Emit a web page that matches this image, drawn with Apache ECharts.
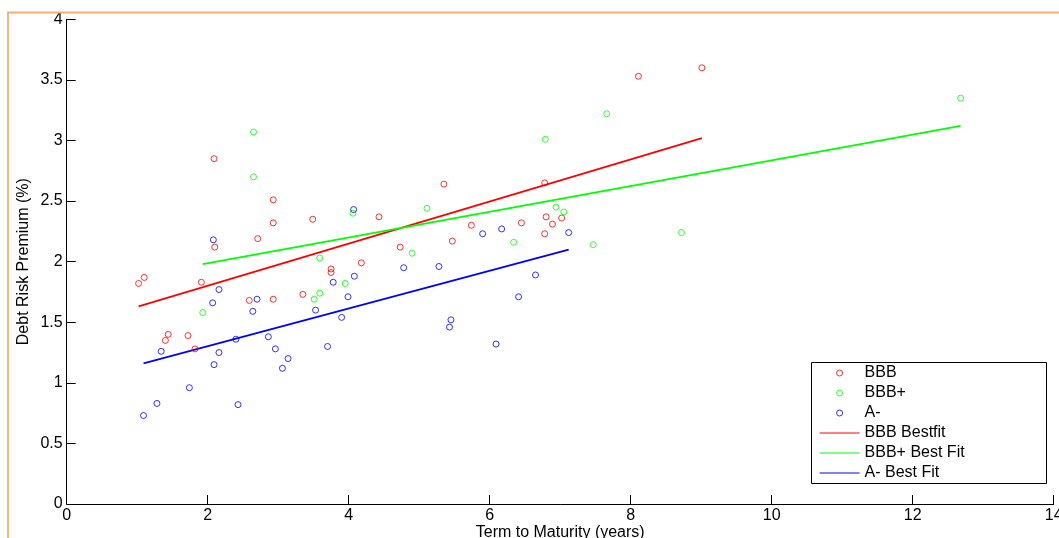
<!DOCTYPE html>
<html>
<head>
<meta charset="utf-8">
<script src="https://cdn.jsdelivr.net/npm/echarts@6/dist/echarts.min.js"></script>
<style>
html,body{margin:0;padding:0;background:#fff;}
#chart{width:1059px;height:538px;}
</style>
</head>
<body>
<div id="chart"></div>
<script>
// ---- data ----
const bbbX = [1.02,1.10,1.40,1.44,1.72,1.82,1.91,2.09,2.10,2.59,2.71,2.93,2.93,2.93,3.35,3.49,3.75,3.75,4.18,4.43,4.73,5.35,5.47,5.74,6.45,6.78,6.78,6.80,6.89,7.02,8.11,9.01];
const bbbY = [1.82,1.87,1.35,1.40,1.39,1.28,1.83,2.85,2.12,1.68,2.19,2.51,2.32,1.69,1.73,2.35,1.94,1.91,1.99,2.37,2.12,2.64,2.17,2.30,2.32,2.65,2.23,2.37,2.31,2.36,3.53,3.60];

const bbbPlusX = [1.93,2.65,2.65,3.51,3.59,3.59,3.95,4.06,4.90,5.11,6.34,6.79,6.94,7.05,7.47,7.66,8.72,12.68];
const bbbPlusY = [1.58,3.07,2.70,1.69,1.74,2.03,1.82,2.40,2.07,2.44,2.16,3.01,2.45,2.41,2.14,3.22,2.24,3.35];

const aMinusX = [1.09,1.28,1.34,1.74,2.07,2.08,2.09,2.16,2.16,2.40,2.43,2.64,2.70,2.86,2.96,3.06,3.14,3.53,3.70,3.78,3.90,3.99,4.07,4.08,4.78,5.28,5.43,5.45,5.90,6.09,6.17,6.41,6.65,7.12];
const aMinusY = [0.73,0.83,1.26,0.96,1.66,2.18,1.15,1.77,1.25,1.36,0.82,1.59,1.69,1.38,1.28,1.12,1.20,1.60,1.30,1.83,1.54,1.71,2.43,1.88,1.95,1.96,1.46,1.52,2.23,1.32,2.27,1.71,1.89,2.24];

// best-fit line end points
const bbbFitX = [1.02, 9.01];
const bbbFitY = [1.63, 3.02];
const bbbPlusFitX = [1.93, 12.68];
const bbbPlusFitY = [1.98, 3.12];
const aMinusFitX = [1.09, 7.12];
const aMinusFitY = [1.16, 2.10];

const seriesNames = ['BBB', 'BBB+', 'A-', 'BBB Bestfit', 'BBB+ Best Fit', 'A- Best Fit'];
const xTicks = [0, 2, 4, 6, 8, 10, 12, 14];
const yTicks = [0, 0.5, 1, 1.5, 2, 2.5, 3, 3.5, 4];
const xTitle = 'Term to Maturity (years)';
const yTitle = 'Debt Risk Premium (%)';

// ---- build ----
const RED = '#ff0000', GREEN = '#00ff00', BLUE = '#0000ff';
const FONT = '"Liberation Sans", Arial, Helvetica, sans-serif';
const CLEAR = 'rgba(0,0,0,0)';
function pts(xs, ys) { return xs.map((x, i) => [x, ys[i]]); }

function scatter(name, xs, ys, color) {
  return {
    name, type: 'scatter', data: pts(xs, ys),
    symbol: 'circle', symbolSize: 6,
    itemStyle: { color: CLEAR, borderColor: color, borderWidth: 1 },
    emphasis: { disabled: true }, z: 3
  };
}
function fit(name, xs, ys, color) {
  return {
    name, type: 'line', data: pts(xs, ys),
    symbol: 'none', showSymbol: false,
    lineStyle: { color, width: 1.8 }, itemStyle: { color },
    emphasis: { disabled: true }, z: 2
  };
}

const chart = echarts.init(document.getElementById('chart'), null, { renderer: 'canvas' });

const axisCommon = {
  type: 'value',
  axisLine: { show: true, onZero: false, lineStyle: { color: '#000', width: 1 } },
  axisTick: { show: true, inside: true, length: 9, lineStyle: { color: '#000', width: 1 } },
  splitLine: { show: false },
  nameLocation: 'middle',
  nameMoveOverlap: false,
  nameTextStyle: { color: '#000', fontSize: 16, fontFamily: FONT },
  axisLabel: { color: '#000', fontSize: 16, fontFamily: FONT }
};

chart.setOption({
  animation: false,
  backgroundColor: '#fff',
  textStyle: { fontFamily: FONT },
  grid: { left: 66.7, right: 5.3, top: 19.3, bottom: 34, containLabel: false, outerBoundsMode: 'none' },
  xAxis: Object.assign({}, axisCommon, {
    min: xTicks[0], max: xTicks[xTicks.length - 1], interval: 2,
    name: xTitle, nameGap: 21,
    axisLabel: Object.assign({}, axisCommon.axisLabel, { margin: 4 })
  }),
  yAxis: Object.assign({}, axisCommon, {
    min: yTicks[0], max: yTicks[yTicks.length - 1], interval: 0.5,
    name: yTitle, nameGap: 35,
    axisLabel: Object.assign({}, axisCommon.axisLabel, { margin: 4 })
  }),
  legend: {
    orient: 'vertical', left: 819, top: 363, padding: 0,
    itemWidth: 40, itemHeight: 6, itemGap: 0,
    textStyle: { color: '#000', fontSize: 16, fontFamily: FONT, lineHeight: 20, padding: [0, 0, 0, 0] },
    selectedMode: false,
    data: [
      { name: seriesNames[0], icon: 'circle', itemStyle: { color: CLEAR, borderColor: RED, borderWidth: 1 } },
      { name: seriesNames[1], icon: 'circle', itemStyle: { color: CLEAR, borderColor: GREEN, borderWidth: 1 } },
      { name: seriesNames[2], icon: 'circle', itemStyle: { color: CLEAR, borderColor: BLUE, borderWidth: 1 } },
      { name: seriesNames[3], itemStyle: { color: CLEAR, borderColor: CLEAR, borderWidth: 0 }, lineStyle: { color: RED, width: 1.2 } },
      { name: seriesNames[4], itemStyle: { color: CLEAR, borderColor: CLEAR, borderWidth: 0 }, lineStyle: { color: GREEN, width: 1.2 } },
      { name: seriesNames[5], itemStyle: { color: CLEAR, borderColor: CLEAR, borderWidth: 0 }, lineStyle: { color: BLUE, width: 1.2 } }
    ]
  },
  graphic: [
    { type: 'rect', silent: true, z: 100,
      shape: { x: 8, y: 12.5, width: 1200, height: 700 },
      style: { fill: null, stroke: '#f7ad72', lineWidth: 1.8 } },
    { type: 'rect', silent: true, z: 1,
      shape: { x: 811.5, y: 362.5, width: 235, height: 121 },
      style: { fill: '#fff', stroke: '#000', lineWidth: 1 } }
  ],
  series: [
    scatter(seriesNames[0], bbbX, bbbY, RED),
    scatter(seriesNames[1], bbbPlusX, bbbPlusY, GREEN),
    scatter(seriesNames[2], aMinusX, aMinusY, BLUE),
    fit(seriesNames[3], bbbFitX, bbbFitY, RED),
    fit(seriesNames[4], bbbPlusFitX, bbbPlusFitY, GREEN),
    fit(seriesNames[5], aMinusFitX, aMinusFitY, BLUE)
  ]
});
</script>
</body>
</html>
